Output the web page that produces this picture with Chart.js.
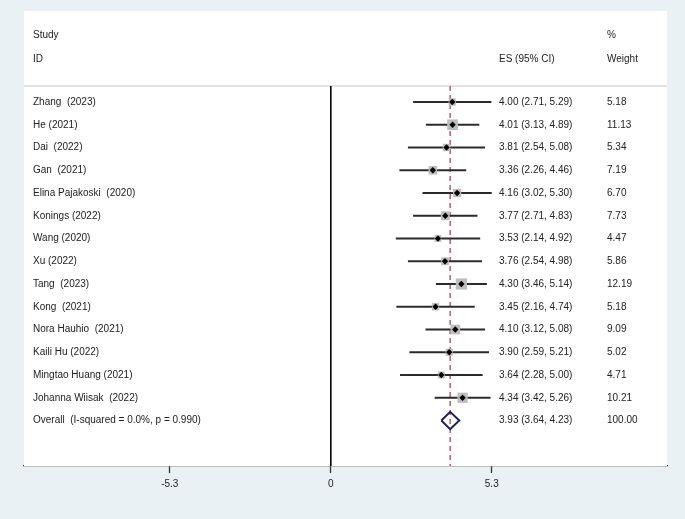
<!DOCTYPE html>
<html>
<head>
<meta charset="utf-8">
<script src="https://cdn.jsdelivr.net/npm/chart.js@4"></script>
<style>
  html, body { margin: 0; padding: 0; background: #e9f1f4; }
  #wrap { width: 685px; height: 519px; }
</style>
</head>
<body>
<div id="wrap"><canvas id="forest" width="685" height="519"></canvas></div>
<script>
// study rows
const studies = ['Zhang  (2023)', 'He (2021)', 'Dai  (2022)', 'Gan  (2021)', 'Elina Pajakoski  (2020)',
  'Konings (2022)', 'Wang (2020)', 'Xu (2022)', 'Tang  (2023)', 'Kong  (2021)', 'Nora Hauhio  (2021)',
  'Kaili Hu (2022)', 'Mingtao Huang (2021)', 'Johanna Wiisak  (2022)'];
const es = [4.00, 4.01, 3.81, 3.36, 4.16, 3.77, 3.53, 3.76, 4.30, 3.45, 4.10, 3.90, 3.64, 4.34];
const lower = [2.71, 3.13, 2.54, 2.26, 3.02, 2.71, 2.14, 2.54, 3.46, 2.16, 3.12, 2.59, 2.28, 3.42];
const upper = [5.29, 4.89, 5.08, 4.46, 5.30, 4.83, 4.92, 4.98, 5.14, 4.74, 5.08, 5.21, 5.00, 5.26];
const weights = [5.18, 11.13, 5.34, 7.19, 6.70, 7.73, 4.47, 5.86, 12.19, 5.18, 9.09, 5.02, 4.71, 10.21];

// pooled estimate
const overallLabel = 'Overall  (I-squared = 0.0%, p = 0.990)';
const overallES = 3.93;
const overallLower = 3.64;
const overallUpper = 4.23;
const overallWeight = '100.00';

const xTicks = [-5.3, 0, 5.3];

const fmt = v => v.toFixed(2);
const overallRow = studies.length;
const topRow = -0.7;      // separator under the header
const bottomRow = 16;     // axis
const diamondH = 0.38;
const FONT = '"Liberation Sans", Arial, sans-serif';

const datasets = [];

// confidence intervals, one short line each
studies.forEach((s, i) => {
  datasets.push({
    type: 'line',
    data: [{x: lower[i], y: i}, {x: upper[i], y: i}],
    borderColor: '#2b2b2b',
    borderWidth: 2,
    pointRadius: 0,
    order: 3
  });
});

// weight boxes
datasets.push({
  type: 'scatter',
  data: es.map((v, i) => ({x: v, y: i})),
  pointStyle: 'rect',
  pointRadius: ctx => 3.2 * Math.sqrt(weights[ctx.dataIndex]) / Math.SQRT2,
  backgroundColor: '#bdbdbd',
  borderWidth: 0,
  order: 2
});

// point estimates
datasets.push({
  type: 'scatter',
  data: es.map((v, i) => ({x: v, y: i})),
  pointStyle: 'rectRot',
  pointRadius: 3.2,
  backgroundColor: '#000',
  borderWidth: 0,
  order: 1
});

// overall diamond
datasets.push({
  type: 'line',
  data: [
    {x: overallLower, y: overallRow},
    {x: overallES, y: overallRow - diamondH},
    {x: overallUpper, y: overallRow},
    {x: overallES, y: overallRow + diamondH},
    {x: overallLower, y: overallRow}
  ],
  borderColor: '#1b1f5c',
  borderWidth: 2,
  pointRadius: 0,
  tension: 0,
  order: 1
});

// pooled dashed line
datasets.push({
  type: 'line',
  data: [{x: overallES, y: topRow}, {x: overallES, y: bottomRow}],
  borderColor: '#9c4a5e',
  borderWidth: 1.3,
  borderDash: [5, 4],
  pointRadius: 0,
  order: 4
});

// null line
datasets.push({
  type: 'line',
  data: [{x: 0, y: topRow}, {x: 0, y: bottomRow}],
  borderColor: '#000',
  borderWidth: 1,
  pointRadius: 0,
  order: 4
});

const textPlugin = {
  id: 'forestText',
  beforeDatasetsDraw(chart) {
    const {ctx, chartArea: a, scales: {y}} = chart;
    ctx.save();
    ctx.fillStyle = '#fff';
    ctx.fillRect(a.left, a.top, a.right - a.left, a.bottom - a.top);
    ctx.strokeStyle = '#d9d9d9';
    ctx.lineWidth = 1.5;
    const sy = y.getPixelForValue(topRow);
    ctx.beginPath();
    ctx.moveTo(a.left, sy);
    ctx.lineTo(a.right, sy);
    ctx.stroke();
    ctx.restore();
  },
  afterDatasetsDraw(chart) {
    const {ctx, chartArea: a, scales: {y}} = chart;
    const c1 = a.left + 9, c2 = a.left + 475, c3 = a.left + 583;
    ctx.save();
    ctx.font = '10px ' + FONT;
    ctx.fillStyle = '#222';
    ctx.textBaseline = 'middle';
    const h1 = y.getPixelForValue(-2.93), h2 = y.getPixelForValue(-1.88);
    ctx.fillText('Study', c1, h1);
    ctx.fillText('ID', c1, h2);
    ctx.fillText('ES (95% CI)', c2, h2);
    ctx.fillText('%', c3, h1);
    ctx.fillText('Weight', c3, h2);
    studies.forEach((s, i) => {
      const py = y.getPixelForValue(i);
      ctx.fillText(s, c1, py);
      ctx.fillText(fmt(es[i]) + ' (' + fmt(lower[i]) + ', ' + fmt(upper[i]) + ')', c2, py);
      ctx.fillText(fmt(weights[i]), c3, py);
    });
    const py = y.getPixelForValue(overallRow);
    ctx.fillText(overallLabel, c1, py);
    ctx.fillText(fmt(overallES) + ' (' + fmt(overallLower) + ', ' + fmt(overallUpper) + ')', c2, py);
    ctx.fillText(overallWeight, c3, py);
    ctx.restore();
  }
};

new Chart(document.getElementById('forest').getContext('2d'), {
  type: 'scatter',
  data: {datasets: datasets},
  options: {
    responsive: false,
    animation: false,
    layout: {padding: {left: 24, right: 18, top: 11, bottom: 24}},
    plugins: {legend: {display: false}, tooltip: {enabled: false}},
    scales: {
      x: {
        type: 'linear',
        min: -10.1,
        max: 11.07,
        afterBuildTicks: axis => { axis.ticks = xTicks.map(v => ({value: v})); },
        ticks: {
          color: '#222',
          font: {family: FONT, size: 10},
          padding: 5,
          callback: v => String(v)
        },
        grid: {drawOnChartArea: false, color: '#333', tickLength: 7, tickWidth: 1.3},
        border: {color: '#333', width: 1.3}
      },
      y: {
        type: 'linear',
        display: false,
        reverse: true,
        min: -4,
        max: 16
      }
    }
  },
  plugins: [textPlugin]
});
</script>
</body>
</html>
